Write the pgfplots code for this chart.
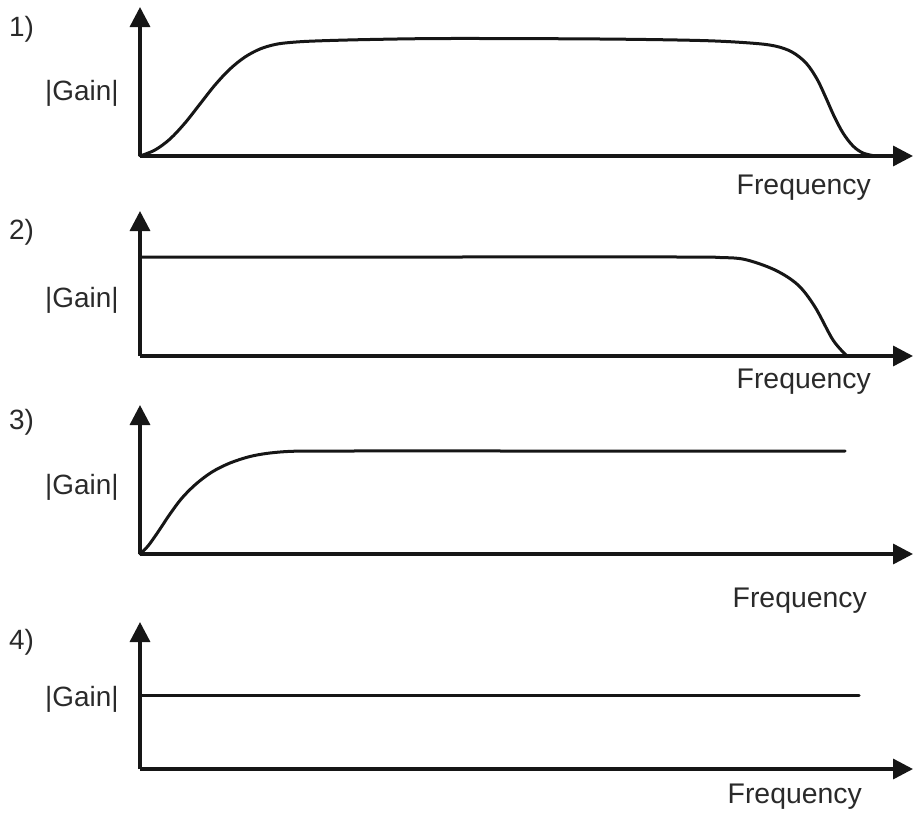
\documentclass[border=0pt]{standalone}
\usepackage{fontspec}
\setmainfont{Liberation Sans}
\usepackage{pgfplots}
\pgfplotsset{compat=1.18}
\usetikzlibrary{arrows.meta}

\definecolor{ink}{HTML}{161616}
\definecolor{txt}{HTML}{2A2A2A}

\tikzset{axarrow/.style={-{Triangle[width=20bp,length=20bp]}}}
\pgfplotsset{
  panel/.style={
    scale only axis, width=773bp, xmin=0, xmax=773, ymin=0,
    enlargelimits=false, axis lines=left, xtick=\empty, ytick=\empty,
    clip=false, anchor=south west,
    axis line style={ink, line width=3.4bp, line cap=butt},
    every outer x axis line/.append style={axarrow, line width=3.4bp},
    every outer y axis line/.append style={axarrow, line width=3.4bp},
  },
  curve/.style={ink, line width=3.0bp, smooth, tension=0.55, no markers,
    line join=round, line cap=round},
}
\newcommand{\lab}[3]{\node[anchor=base west, inner sep=0pt, text=txt,
  font=\fontsize{28}{30}\selectfont] at (#1bp,-#2bp) {#3};}
\newcommand{\freq}[2]{\node[anchor=base east, inner sep=0pt, text=txt,
  font=\fontsize{28.5}{30}\selectfont] at (#1bp,-#2bp) {Frequency};}

\begin{document}
\begin{tikzpicture}
\useasboundingbox (0,0) rectangle (913bp,-813bp);

% Panel 1
\begin{axis}[panel, at={(140bp,-156bp)}, height=149bp, ymax=149]
\addplot[curve] coordinates {
(0,0) (15,6) (30,17) (45,33) (60,52) (75,71) (90,87) (105,99) (120,107)
(135,111.5) (150,113.5) (175,115) (230,116.5) (310,117.5) (460,117) (560,115.5)
(610,113) (635,110) (652,104) (666,93) (677,77) (686,58) (694,40) (703,23)
(713,10) (723,3) (735,0)};
\end{axis}

% Panel 2
\begin{axis}[panel, at={(140bp,-356bp)}, height=145bp, ymax=145]
\addplot[curve] coordinates {
(0,99) (280,99) (540,99) (580,98.5) (605,96.5) (635,86) (658,71) (675,49) (693,16) (707,0)};
\end{axis}

% Panel 3
\begin{axis}[panel, at={(140bp,-554bp)}, height=149bp, ymax=149]
\addplot[curve] coordinates {
(0,0) (8,8) (18,22) (30,40) (42,56) (56,70) (72,82) (90,91) (110,97.5)
(130,101) (155,102.8) (200,103) (450,103) (705,103)};
\end{axis}

% Panel 4
\begin{axis}[panel, at={(140bp,-769bp)}, height=147bp, ymax=147]
\addplot[curve] coordinates {(0,74) (719,74)};
\end{axis}

\lab{9}{36}{1)}
\lab{9}{239}{2)}
\lab{9}{429}{3)}
\lab{9}{649}{4)}
\lab{45}{100}{|Gain|}
\lab{45}{307}{|Gain|}
\lab{45}{494}{|Gain|}
\lab{45}{706}{|Gain|}
\freq{871}{194}
\freq{871}{388}
\freq{867}{607}
\freq{862}{803}
\end{tikzpicture}
\end{document}
